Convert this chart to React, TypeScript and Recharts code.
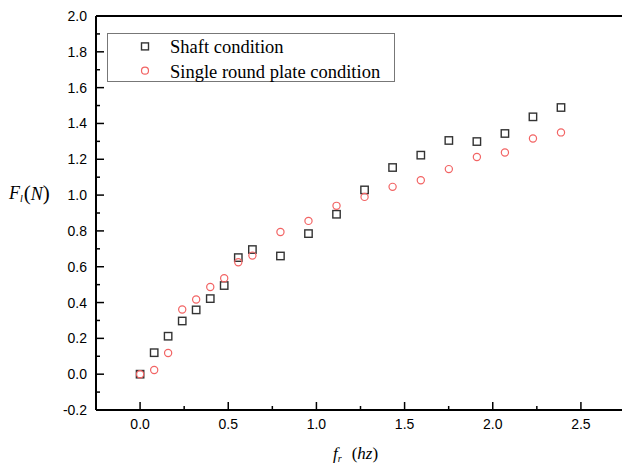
import { ScatterChart, Scatter, XAxis, YAxis, Legend, ReferenceLine, Label } from "recharts";

// rotation frequency f_r (hz)
const freq = [0, 0.08, 0.159, 0.239, 0.318, 0.398, 0.477, 0.557, 0.637, 0.796, 0.955, 1.114, 1.273, 1.432, 1.592, 1.751, 1.91, 2.069, 2.228, 2.387];
// lift force F_l (N)
const shaftForce = [0, 0.12, 0.212, 0.297, 0.359, 0.422, 0.495, 0.651, 0.696, 0.66, 0.785, 0.893, 1.029, 1.154, 1.223, 1.305, 1.299, 1.344, 1.437, 1.489];
const plateForce = [0, 0.023, 0.118, 0.361, 0.417, 0.487, 0.536, 0.625, 0.662, 0.794, 0.856, 0.94, 0.99, 1.046, 1.083, 1.145, 1.213, 1.238, 1.316, 1.35];

const xTicks = [0, 0.25, 0.5, 0.75, 1, 1.25, 1.5, 1.75, 2, 2.25, 2.5];
const yTicks = [-0.2, -0.1, 0, 0.1, 0.2, 0.3, 0.4, 0.5, 0.6, 0.7, 0.8, 0.9, 1, 1.1, 1.2, 1.3, 1.4, 1.5, 1.6, 1.7, 1.8, 1.9, 2];

const shaftData = freq.map((x, i) => ({ x, y: shaftForce[i] }));
const plateData = freq.map((x, i) => ({ x, y: plateForce[i] }));

const SQUARE = "#333333";
const CIRCLE = "#f26464";
const sans = '"Liberation Sans", Arial, sans-serif';
const serif = '"Liberation Serif", "Times New Roman", serif';

const XTick = (props: any) => {
  const { x, y, payload } = props;
  const v = payload.value;
  const major = Math.round(v * 100) % 50 === 0;
  return (
    <g>
      <line x1={x} x2={x} y1={y} y2={y - (major ? 8 : 4)} stroke="#000" strokeWidth={1.5} />
      {major && (
        <text x={x} y={y + 19} textAnchor="middle" fontFamily={sans} fontSize={14} fill="#000">
          {v.toFixed(1)}
        </text>
      )}
    </g>
  );
};

const YTick = (props: any) => {
  const { x, y, payload } = props;
  const v = payload.value;
  const major = Math.round(v * 10) % 2 === 0;
  return (
    <g>
      <line x1={x} x2={x + (major ? 8 : 4)} y1={y} y2={y} stroke="#000" strokeWidth={1.5} />
      {major && (
        <text x={x - 9} y={y + 5} textAnchor="end" fontFamily={sans} fontSize={14} fill="#000">
          {v.toFixed(1)}
        </text>
      )}
    </g>
  );
};

const SquareShape = (props: any) => (
  <rect x={props.cx - 3.7} y={props.cy - 3.7} width={7.4} height={7.4} fill="none" stroke={SQUARE} strokeWidth={1.4} />
);

const CircleShape = (props: any) => (
  <circle cx={props.cx} cy={props.cy} r={3.6} fill="none" stroke={CIRCLE} strokeWidth={1.2} />
);

const XTitle = () => (
  <text x={333} y={459} fontFamily={serif} fontSize={17} fill="#000">
    <tspan fontStyle="italic">f</tspan>
    <tspan fontStyle="italic" fontSize={10} dy={3}>r</tspan>
    <tspan dx={10} dy={-3}>(</tspan>
    <tspan fontStyle="italic">hz</tspan>
    <tspan>)</tspan>
  </text>
);

const YTitle = () => (
  <text x={9} y={199} fontFamily={serif} fontSize={18} fill="#000">
    <tspan fontStyle="italic">F</tspan>
    <tspan fontStyle="italic" fontSize={10} dy={3}>l</tspan>
    <tspan fontSize={21} dx={1} dy={-2}>(</tspan>
    <tspan fontStyle="italic" fontSize={18}>N</tspan>
    <tspan fontSize={21}>)</tspan>
  </text>
);

const LegendBox = (props: any) => {
  const items = props.payload || [];
  return (
    <svg width={288} height={49} style={{ display: "block" }}>
      <rect x={0.5} y={0.5} width={287} height={48} fill="#fff" stroke="#777" strokeWidth={1} />
      {items.map((item: any, i: number) => {
        const cy = 13.4 + i * 24.3;
        return (
          <g key={item.value}>
            {i === 0 ? (
              <rect x={38 - 3.5} y={cy - 3.5} width={7} height={7} fill="none" stroke={SQUARE} strokeWidth={1.4} />
            ) : (
              <circle cx={38} cy={cy} r={3.5} fill="none" stroke={CIRCLE} strokeWidth={1.2} />
            )}
            <text x={63} y={cy + 7} fontFamily={serif} fontSize={18.5} fill="#000">
              {item.value}
            </text>
          </g>
        );
      })}
    </svg>
  );
};

export default function App() {
  return (
    <div style={{ position: "absolute", left: 0, top: 0, width: 622, height: 467, overflow: "hidden", background: "#fff" }}>
      <ScatterChart width={640} height={467} margin={{ top: 16, right: 15, bottom: 17, left: 36 }}>
        <XAxis
          type="number"
          dataKey="x"
          domain={[-0.25, 2.75]}
          ticks={xTicks}
          interval={0}
          tick={<XTick />}
          tickLine={false}
          tickSize={0}
          tickMargin={0}
          axisLine={{ stroke: "#000", strokeWidth: 2 }}
          height={40}
          allowDataOverflow
        >
          <Label content={XTitle} />
        </XAxis>
        <YAxis
          type="number"
          dataKey="y"
          domain={[-0.2, 2]}
          ticks={yTicks}
          interval={0}
          tick={<YTick />}
          tickLine={false}
          tickSize={0}
          tickMargin={0}
          axisLine={{ stroke: "#000", strokeWidth: 2 }}
          width={60}
          allowDataOverflow
        >
          <Label content={YTitle} />
        </YAxis>
        <ReferenceLine y={2} stroke="#000" strokeWidth={2} />
        <Legend
          layout="vertical"
          align="center"
          verticalAlign="middle"
          content={LegendBox}
          wrapperStyle={{ left: 107, top: 33, width: 288, height: 49 }}
        />
        <Scatter name="Shaft condition" data={shaftData} shape={SquareShape} isAnimationActive={false} />
        <Scatter name="Single round plate condition" data={plateData} shape={CircleShape} isAnimationActive={false} />
      </ScatterChart>
    </div>
  );
}
